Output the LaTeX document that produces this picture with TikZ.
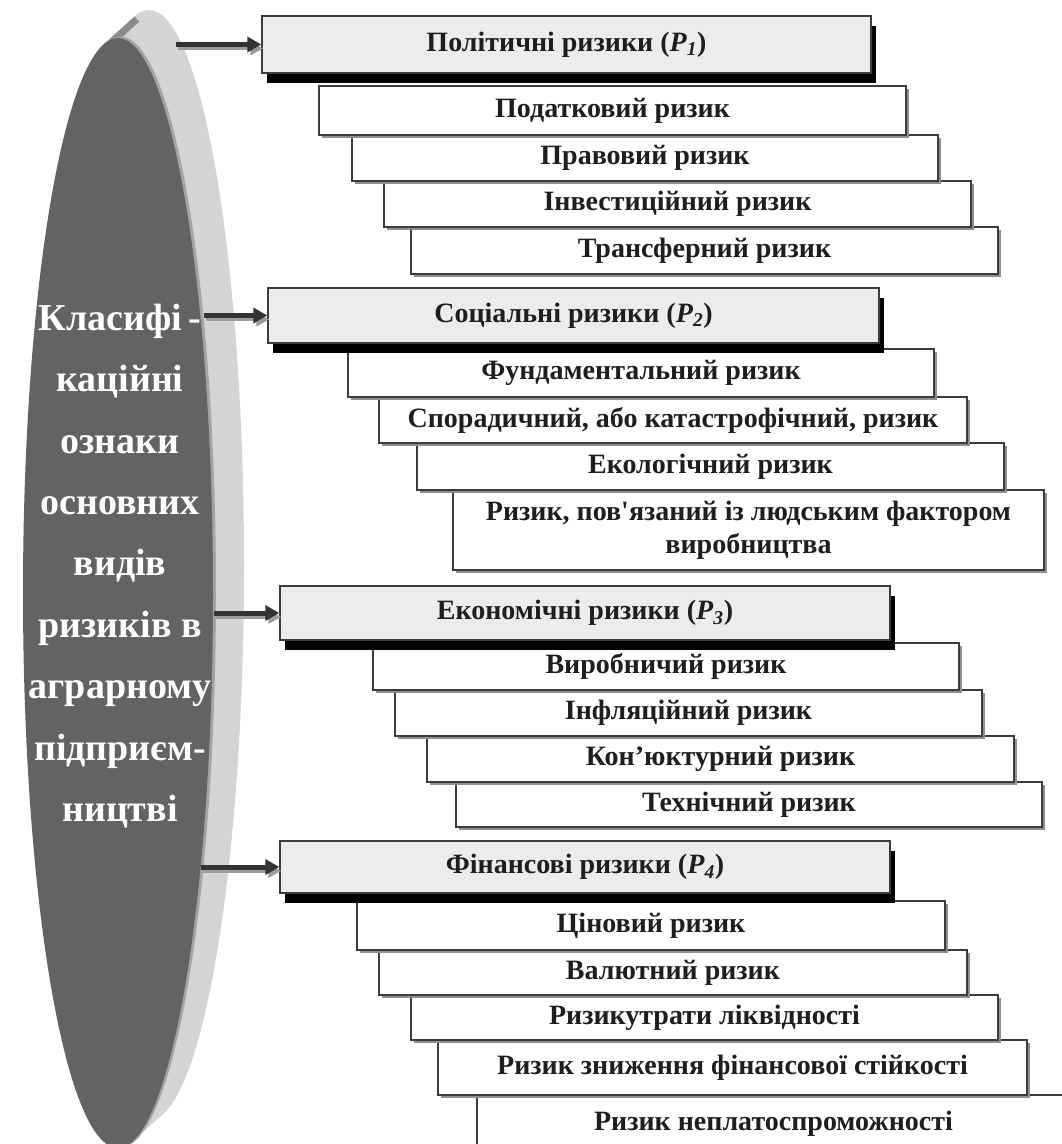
\documentclass[tikz,border=0pt]{standalone}
\usepackage{fontspec}
\setmainfont{Liberation Serif}
\usetikzlibrary{arrows.meta}

\definecolor{discdark}{HTML}{636363}
\definecolor{disclight}{HTML}{D4D4D4}
\definecolor{discrim}{HTML}{A4A4A4}
\definecolor{discband}{HTML}{8A8A8A}
\definecolor{headfill}{HTML}{ECECEC}
\definecolor{framec}{HTML}{3C3C3C}
\definecolor{inkc}{HTML}{1E1E1E}
\definecolor{subshadow}{HTML}{8E8E8E}
\definecolor{arrowc}{HTML}{333333}
\definecolor{arrowsh}{HTML}{9C9C9C}

\tikzset{
  headbox/.style={draw=framec, line width=1.4pt, fill=headfill, text=inkc,
    font=\bfseries\fontsize{28}{32}\selectfont, inner sep=0pt},
  subbox/.style={draw=framec, line width=1.2pt, fill=white, text=inkc,
    font=\bfseries\fontsize{28}{33}\selectfont, inner sep=0pt, align=center},
  linkarrow/.style={draw=arrowc, line width=5pt,
    -{Triangle[length=14pt, width=15pt]}},
  linkshadow/.style={draw=arrowsh, line width=3pt,
    -{Triangle[length=13pt, width=13pt]}},
  disctext/.style={text=white, font=\bfseries\fontsize{38}{61.4}\selectfont,
    align=center, inner sep=0pt}
}

% #1 name, #2..#5 corners (x1,y1,x2,y2), #6 text
\newcommand\riskitem[6]{%
  \fill[subshadow] (#2+3,#3+3) rectangle (#4+3,#5+3);
  \node[subbox, minimum width={#4-#2}, minimum height={#5-#3}]
    (#1) at ({(#2+#4)/2},{(#3+#5)/2}) {#6};
}
% #1 name, #2..#5 corners, #6 text
\newcommand\riskhead[6]{%
  \fill[black] (#2+5,#3+10) rectangle (#4+5,#5+10);
  \node[headbox, minimum width={#4-#2}, minimum height={#5-#3}]
    (#1) at ({(#2+#4)/2},{(#3+#5)/2}) {#6};
}
\newcommand\Pidx[1]{(\textit{P}\textsubscript{\textit{#1}})}

\begin{document}
\begin{tikzpicture}[x=1pt, y=-1pt]
\fill[white] (0,0) rectangle (1062,1144);
\useasboundingbox (0,0) rectangle (1062,1144);

% disc: light side, bevel band, rim and dark face
\fill[disclight] (149,565) ellipse [x radius=95, y radius=555];
\fill[disclight] (103.5,44.5) -- (134.5,16.5) -- (163.5,1113.5) -- (132.5,1141.5) -- cycle;
\fill[discband] (103.5,44.5) -- (134.5,16.5) -- (139.2,21.7) -- (108.2,49.7) -- cycle;
\fill[discrim] (120.5,592) ellipse [x radius=95.5, y radius=555.5];
\fill[discdark] (118,593) ellipse [x radius=95, y radius=555];

\node[disctext] (cls) at (120,566) {Класифі\,-\\кацiйні\\ознаки\\основних\\видів\\ризиків в\\аграрному\\підприєм-\\ництві};

% arrow tails on the disc
\coordinate (t1) at (176,0);
\coordinate (t2) at (204,0);
\coordinate (t3) at (214,0);
\coordinate (t4) at (201,0);

% group 1
\riskitem{s1d}{411}{227}{998}{274}{Трансферний ризик}
\riskitem{s1c}{384}{181}{971}{227}{Інвестиційний ризик}
\riskitem{s1b}{352}{135}{938}{181}{Правовий ризик}
\riskitem{s1a}{319}{86}{906}{135}{Податковий ризик}
\riskhead{h1}{262}{16}{871}{73}{Політичні ризики \Pidx{1}}

% group 2
\riskitem{s2d}{453}{490}{1044}{570}{Ризик, пов\textquotesingle язаний із людським фактором\\виробництва}
\riskitem{s2c}{417}{443}{1004}{490}{Екологічний ризик}
\riskitem{s2b}{379}{397}{967}{443}{Спорадичний, або катастрофічний, ризик}
\riskitem{s2a}{348}{349}{934}{397}{Фундаментальний ризик}
\riskhead{h2}{268}{288}{879}{343}{Соціальні ризики \Pidx{2}}

% group 3
\riskitem{s3d}{456}{782}{1042}{827}{Технічний ризик}
\riskitem{s3c}{427}{736}{1014}{782}{Кон’юктурний ризик}
\riskitem{s3b}{395}{690}{982}{736}{Інфляційний ризик}
\riskitem{s3a}{373}{643}{959}{690}{Виробничий ризик}
\riskhead{h3}{280}{586}{890}{640}{Економічні ризики \Pidx{3}}

% group 4
\riskitem{s4e}{477}{1095}{1070}{1152}{Ризик неплатоспроможності}
\riskitem{s4d}{438}{1040}{1027}{1095}{Ризик зниження фінансової стійкості}
\riskitem{s4c}{411}{995}{998}{1040}{Ризикутрати ліквідності}
\riskitem{s4b}{379}{950}{967}{995}{Валютний ризик}
\riskitem{s4a}{357}{901}{945}{950}{Ціновий ризик}
\riskhead{h4}{280}{841}{890}{893}{Фінансові ризики \Pidx{4}}

% links from the disc to the group headers
\foreach \t/\h in {t1/h1, t2/h2, t3/h3, t4/h4}{
  \draw[linkshadow, transform canvas={shift={(2,4)}}] (\t |- \h.west) -- (\h.west);
  \draw[linkarrow] (\t |- \h.west) -- (\h.west);
}
\end{tikzpicture}
\end{document}
